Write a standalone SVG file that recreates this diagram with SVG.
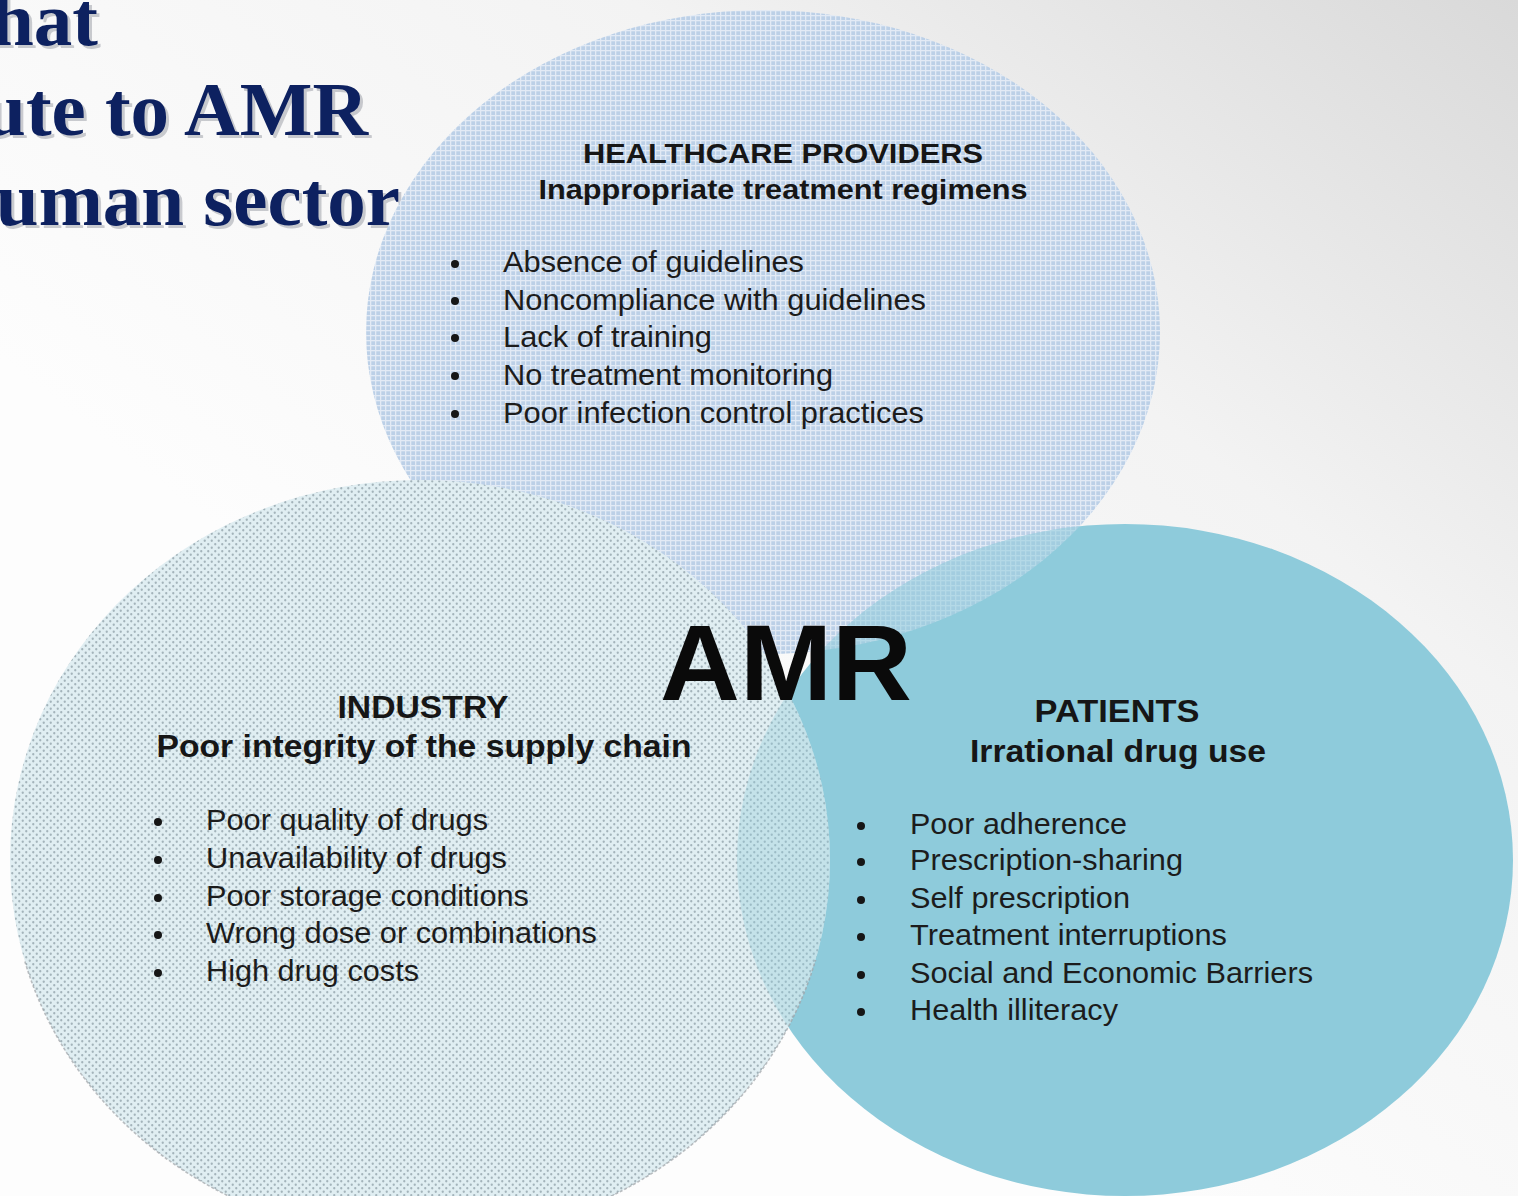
<svg xmlns="http://www.w3.org/2000/svg" width="1518" height="1196" viewBox="0 0 1518 1196">
  <defs>
    <linearGradient id="bg" x1="0.35" y1="0.65" x2="1" y2="0">
      <stop offset="0" stop-color="#fdfdfd"/>
      <stop offset="0.55" stop-color="#f3f3f3"/>
      <stop offset="1" stop-color="#d9d9d9"/>
    </linearGradient>
    <!-- fine grid fill for the providers circle -->
    <pattern id="grid" width="5" height="5" patternUnits="userSpaceOnUse">
      <rect width="5" height="5" fill="#bcd0e7"/>
      <rect width="5" height="1.3" fill="#e2eaf5"/>
      <rect width="1.3" height="5" fill="#e2eaf5"/>
    </pattern>
    <!-- dotted fill for the industry circle -->
    <pattern id="dots" width="7" height="7" patternUnits="userSpaceOnUse">
      <rect width="7" height="7" fill="#e0eef2"/>
      <circle cx="1.75" cy="1.75" r="1.15" fill="#a3b3ba"/>
      <circle cx="5.25" cy="5.25" r="1.15" fill="#a3b3ba"/>
    </pattern>
    <clipPath id="clipPatients">
      <ellipse cx="1125" cy="860" rx="388" ry="336"/>
    </clipPath>
    <clipPath id="clipIndustry">
      <ellipse cx="420" cy="860" rx="410" ry="380"/>
    </clipPath>
    <clipPath id="lowerHalf">
      <rect x="0" y="960" width="900" height="240"/>
    </clipPath>
  </defs>
  <style>
    .title { font-family: "Liberation Serif", "Times New Roman", serif; font-weight: bold; font-size: 77px; fill: #0d2160; }
    .title-shadow { font-family: "Liberation Serif", "Times New Roman", serif; font-weight: bold; font-size: 77px; fill: #6f7480; opacity: 0.35; }
    .head { font-family: "Liberation Sans", Arial, sans-serif; font-weight: bold; fill: #161616; }
    .item { font-family: "Liberation Sans", Arial, sans-serif; fill: #1c1c1c; }
    .bullet { fill: #161616; }
    .amr { font-family: "Liberation Sans", Arial, sans-serif; font-weight: bold; font-size: 108px; fill: #0a0a0a; }
  </style>

  <rect width="1518" height="1196" fill="url(#bg)"/>

  <!-- slide title (runs off the left edge) -->
  <g id="title">
    <text class="title-shadow" x="101" y="48" text-anchor="end">hat</text>
    <text class="title-shadow" x="371" y="138" text-anchor="end">ute to AMR</text>
    <text class="title-shadow" x="403" y="228" text-anchor="end">uman sector</text>
    <text class="title" x="98" y="45" text-anchor="end">hat</text>
    <text class="title" x="368" y="135" text-anchor="end">ute to AMR</text>
    <text class="title" x="400" y="225" text-anchor="end">uman sector</text>
  </g>

  <!-- circle shapes -->
  <g id="healthcare-providers-shape">
    <ellipse cx="763" cy="332" rx="397" ry="322" fill="url(#grid)"/>
  </g>
  <g id="patients-shape">
    <ellipse cx="1125" cy="860" rx="388" ry="336" fill="#8ecbdb"/>
    <!-- providers circle showing through where the two overlap -->
    <ellipse cx="763" cy="332" rx="397" ry="322" fill="url(#grid)" opacity="0.45" clip-path="url(#clipPatients)"/>
  </g>
  <g id="industry-shape">
    <ellipse cx="420" cy="860" rx="410" ry="380" fill="url(#dots)"/>
    <ellipse cx="1125" cy="860" rx="388" ry="336" fill="#8ecbdb" opacity="0.35" clip-path="url(#clipIndustry)"/>
    <ellipse cx="420" cy="860" rx="410" ry="380" fill="none" stroke="#9ea3a6" stroke-width="1.6" stroke-dasharray="3 2" opacity="0.7" clip-path="url(#lowerHalf)"/>
  </g>

  <g id="connectors"></g>

  <!-- Healthcare providers -->
  <g id="healthcare-providers">
    <text class="head" x="783" y="163" font-size="28" text-anchor="middle" textLength="400" lengthAdjust="spacingAndGlyphs">HEALTHCARE PROVIDERS</text>
    <text class="head" x="783" y="199" font-size="28" text-anchor="middle" textLength="489" lengthAdjust="spacingAndGlyphs">Inappropriate treatment regimens</text>
    <circle class="bullet" cx="455" cy="264" r="4"/>
    <circle class="bullet" cx="455" cy="301" r="4"/>
    <circle class="bullet" cx="455" cy="338" r="4"/>
    <circle class="bullet" cx="455" cy="376" r="4"/>
    <circle class="bullet" cx="455" cy="414" r="4"/>
    <text class="item" x="503" y="272" font-size="30" textLength="301" lengthAdjust="spacingAndGlyphs">Absence of guidelines</text>
    <text class="item" x="503" y="310" font-size="30" textLength="423" lengthAdjust="spacingAndGlyphs">Noncompliance with guidelines</text>
    <text class="item" x="503" y="347" font-size="30" textLength="209" lengthAdjust="spacingAndGlyphs">Lack of training</text>
    <text class="item" x="503" y="385" font-size="30" textLength="330" lengthAdjust="spacingAndGlyphs">No treatment monitoring</text>
    <text class="item" x="503" y="423" font-size="30" textLength="421" lengthAdjust="spacingAndGlyphs">Poor infection control practices</text>
  </g>

  <!-- Industry -->
  <g id="industry">
    <text class="head" x="423" y="718" font-size="31" text-anchor="middle" textLength="171" lengthAdjust="spacingAndGlyphs">INDUSTRY</text>
    <text class="head" x="424" y="757" font-size="31" text-anchor="middle" textLength="535" lengthAdjust="spacingAndGlyphs">Poor integrity of the supply chain</text>
    <circle class="bullet" cx="158" cy="822" r="4"/>
    <circle class="bullet" cx="158" cy="860" r="4"/>
    <circle class="bullet" cx="158" cy="898" r="4"/>
    <circle class="bullet" cx="158" cy="935" r="4"/>
    <circle class="bullet" cx="158" cy="973" r="4"/>
    <text class="item" x="206" y="830" font-size="29" textLength="282" lengthAdjust="spacingAndGlyphs">Poor quality of drugs</text>
    <text class="item" x="206" y="868" font-size="29" textLength="301" lengthAdjust="spacingAndGlyphs">Unavailability of drugs</text>
    <text class="item" x="206" y="906" font-size="29" textLength="323" lengthAdjust="spacingAndGlyphs">Poor storage conditions</text>
    <text class="item" x="206" y="943" font-size="29" textLength="391" lengthAdjust="spacingAndGlyphs">Wrong dose or combinations</text>
    <text class="item" x="206" y="981" font-size="29" textLength="213" lengthAdjust="spacingAndGlyphs">High drug costs</text>
  </g>

  <!-- centre label -->
  <g id="amr">
    <text class="amr" x="660" y="700" textLength="252" lengthAdjust="spacingAndGlyphs">AMR</text>
  </g>

  <!-- Patients -->
  <g id="patients">
    <text class="head" x="1117" y="722" font-size="31" text-anchor="middle" textLength="165" lengthAdjust="spacingAndGlyphs">PATIENTS</text>
    <text class="head" x="1118" y="762" font-size="31" text-anchor="middle" textLength="296" lengthAdjust="spacingAndGlyphs">Irrational drug use</text>
    <circle class="bullet" cx="861" cy="826" r="4"/>
    <circle class="bullet" cx="861" cy="862" r="4"/>
    <circle class="bullet" cx="861" cy="900" r="4"/>
    <circle class="bullet" cx="861" cy="937" r="4"/>
    <circle class="bullet" cx="861" cy="975" r="4"/>
    <circle class="bullet" cx="861" cy="1012" r="4"/>
    <text class="item" x="910" y="834" font-size="29" textLength="217" lengthAdjust="spacingAndGlyphs">Poor adherence</text>
    <text class="item" x="910" y="870" font-size="29" textLength="273" lengthAdjust="spacingAndGlyphs">Prescription-sharing</text>
    <text class="item" x="910" y="908" font-size="29" textLength="220" lengthAdjust="spacingAndGlyphs">Self prescription</text>
    <text class="item" x="910" y="945" font-size="29" textLength="317" lengthAdjust="spacingAndGlyphs">Treatment interruptions</text>
    <text class="item" x="910" y="983" font-size="29" textLength="403" lengthAdjust="spacingAndGlyphs">Social and Economic Barriers</text>
    <text class="item" x="910" y="1020" font-size="29" textLength="208" lengthAdjust="spacingAndGlyphs">Health illiteracy</text>
  </g>
</svg>
